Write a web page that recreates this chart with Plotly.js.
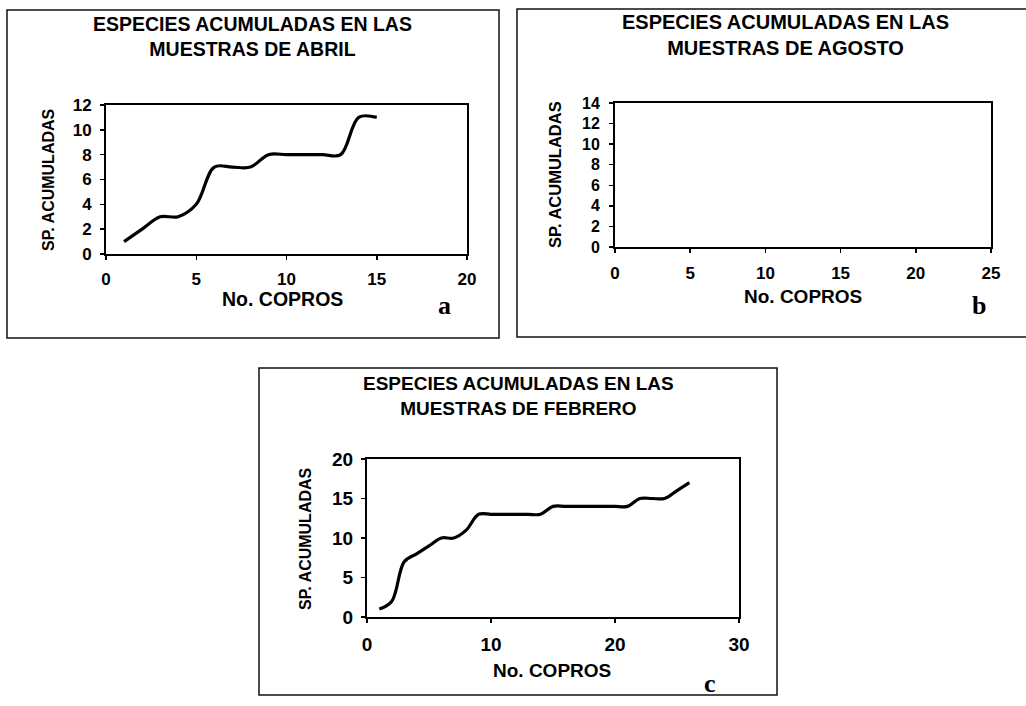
<!DOCTYPE html>
<html>
<head>
<meta charset="utf-8">
<script src="https://cdn.plot.ly/plotly-3.0.1.min.js"></script>
<style>html,body{margin:0;padding:0;background:#fff;}#chart{width:1026px;height:706px;}</style>
</head>
<body>
<div id="chart"></div>
<script>
// ---- data ----
var copros_abril = [1,2,3,4,5,6,7,8,9,10,11,12,13,14,15];
var especies_abril = [1,2,3,3,4,7,7,7,8,8,8,8,8,11,11];
var copros_agosto = [];
var especies_agosto = [];
var copros_febrero = [1,2,3,4,5,6,7,8,9,10,11,12,13,14,15,16,17,18,19,20,21,22,23,24,25,26];
var especies_febrero = [1,2,7,8,9,10,10,11,13,13,13,13,13,13,14,14,14,14,14,14,14,15,15,15,16,17];

var titulos = [
  "ESPECIES ACUMULADAS EN LAS<br>MUESTRAS DE ABRIL",
  "ESPECIES ACUMULADAS EN LAS<br>MUESTRAS DE AGOSTO",
  "ESPECIES ACUMULADAS EN LAS<br>MUESTRAS DE FEBRERO"
];
var ejeY = "SP. ACUMULADAS";
var ejeX = "No. COPROS";
var letras = ["a","b","c"];

// ---- layout helpers (pixel -> paper) ----
var W = 1026, H = 706;
function px(x){ return x / W; }
function py(y){ return 1 - y / H; }
var SANS = "Liberation Sans, Arial, sans-serif";
var SERIF = "Liberation Serif, Times New Roman, serif";

function axis(dom, range, dtick, anchor, fs, standoff){
  return {
    domain: dom, range: range, dtick: dtick, tick0: 0, anchor: anchor,
    showline: true, mirror: true, linecolor: "#000", linewidth: 2,
    ticks: "outside", ticklen: 4, tickwidth: 1.5, tickcolor: "#000",
    showgrid: false, zeroline: false, fixedrange: true,
    tickfont: {family: SANS, size: fs, color: "#000", weight: "bold"},
    ticklabelstandoff: standoff
  };
}

var line = {color: "#000", width: 3.2, shape: "spline", smoothing: 1};
var data = [
  {x: copros_abril, y: especies_abril, xaxis: "x", yaxis: "y", mode: "lines", line: line, hoverinfo: "skip"},
  {x: copros_agosto, y: especies_agosto, xaxis: "x2", yaxis: "y2", mode: "lines", line: line, hoverinfo: "skip"},
  {x: copros_febrero, y: especies_febrero, xaxis: "x3", yaxis: "y3", mode: "lines", line: line, hoverinfo: "skip"}
];

function box(x0,y0,x1,y1){
  return {type:"rect", xref:"paper", yref:"paper", x0:px(x0), x1:px(x1), y0:py(y1), y1:py(y0),
          line:{color:"#111", width:1.5}, fillcolor:"rgba(0,0,0,0)", layer:"below"};
}
function txt(t,x,y,fs,fam,rot){
  return {text:t, xref:"paper", yref:"paper", x:px(x), y:py(y), xanchor:"center", yanchor:"middle",
          showarrow:false, textangle: rot||0,
          font:{family:fam||SANS, size:fs, color:"#000", weight:"bold"}};
}

var layout = {
  width: W, height: H, margin: {l:0, r:0, t:0, b:0},
  paper_bgcolor: "#fff", plot_bgcolor: "#fff", showlegend: false,
  xaxis:  axis([px(106), px(467)], [0,20], 5, "y", 17, 5),
  yaxis:  axis([py(254), py(105)], [0,12], 2, "x", 17, 5),
  xaxis2: axis([px(615), px(991)], [0,25], 5, "y2", 17, 6),
  yaxis2: axis([py(247), py(103)], [0,14], 2, "x2", 16, 6),
  xaxis3: axis([px(367), px(739)], [0,30], 10, "y3", 19, 5),
  yaxis3: axis([py(617), py(459)], [0,20], 5, "x3", 19, 4),
  shapes: [box(7,10,499,338), box(517,9,1030,337), box(259,368,777,695)],
  annotations: [
    txt(titulos[0], 252, 37, 19.5),
    txt(titulos[1], 785, 35, 20),
    txt(titulos[2], 518, 396, 19),
    txt(ejeY, 48, 180, 16, SANS, -90),
    txt(ejeY, 555, 175, 16.5, SANS, -90),
    txt(ejeY, 305, 539, 16, SANS, -90),
    txt(ejeX, 282, 299, 19.5),
    txt(ejeX, 803, 296, 19),
    txt(ejeX, 552, 670, 19),
    txt(letras[0], 444, 305, 26, SERIF),
    txt(letras[1], 979, 305, 26, SERIF),
    txt(letras[2], 710, 683, 26, SERIF)
  ]
};

Plotly.newPlot("chart", data, layout, {staticPlot: true, displayModeBar: false});
</script>
</body>
</html>
